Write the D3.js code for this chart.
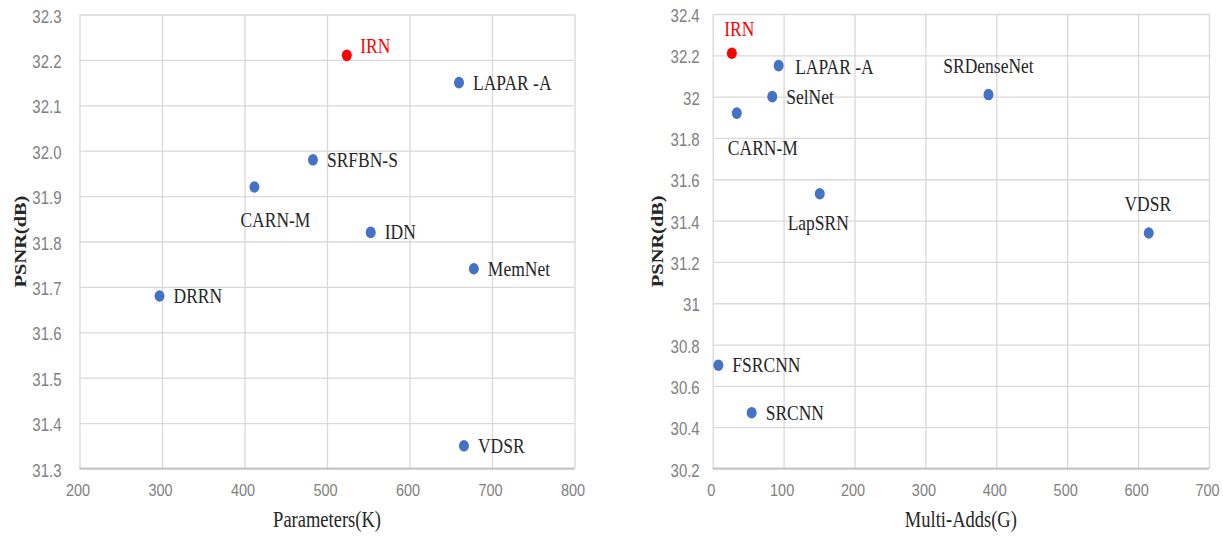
<!DOCTYPE html>
<html>
<head>
<meta charset="utf-8">
<script src="https://cdnjs.cloudflare.com/ajax/libs/d3/7.8.5/d3.min.js"></script>
<style>
  body { margin: 0; background: #fff; }
</style>
</head>
<body>
<script>
// left panel: PSNR vs Parameters(K)
var paramNames  = ['IRN', 'LAPAR -A', 'SRFBN-S', 'CARN-M', 'IDN', 'MemNet', 'DRRN', 'VDSR'];
var paramValues = [524, 660, 483, 412, 553, 678, 297, 666];
var paramPsnr   = [32.21, 32.15, 31.98, 31.92, 31.82, 31.74, 31.68, 31.35];
var paramXTicks = [200, 300, 400, 500, 600, 700, 800];
var paramYTicks = [31.3, 31.4, 31.5, 31.6, 31.7, 31.8, 31.9, 32.0, 32.1, 32.2, 32.3];
var paramYLabels = ['31.3', '31.4', '31.5', '31.6', '31.7', '31.8', '31.9', '32.0', '32.1', '32.2', '32.3'];

// right panel: PSNR vs Multi-Adds(G)
var addsNames  = ['IRN', 'LAPAR -A', 'SelNet', 'CARN-M', 'SRDenseNet', 'LapSRN', 'VDSR', 'FSRCNN', 'SRCNN'];
var addsValues = [27, 93, 84, 34, 389, 151, 615, 8, 55];
var addsPsnr   = [32.21, 32.15, 32.00, 31.92, 32.01, 31.53, 31.34, 30.70, 30.47];
var addsXTicks = [0, 100, 200, 300, 400, 500, 600, 700];
var addsYTicks = [30.2, 30.4, 30.6, 30.8, 31, 31.2, 31.4, 31.6, 31.8, 32, 32.2, 32.4];
var addsYLabels = ['30.2', '30.4', '30.6', '30.8', '31', '31.2', '31.4', '31.6', '31.8', '32', '32.2', '32.4'];

// where each label sits relative to its dot: anchor, dx, dy
var paramLabelPos = {
  'IRN': ['start', 13.5, -9],
  'CARN-M': ['middle', 21, 33]
};
var addsLabelPos = {
  'IRN': ['middle', 7.5, -24],
  'LAPAR -A': ['start', 16.5, 1.5],
  'CARN-M': ['middle', 26, 35],
  'SRDenseNet': ['middle', 0, -29],
  'LapSRN': ['middle', -1.5, 29],
  'VDSR': ['middle', -1, -29]
};

var w = 1223;
var h = 538;
var stretch = 1.2;   // the source picture is a little taller than wide

var svg = d3.select("body")
    .append("svg")
    .attr("width", w)
    .attr("height", h);

function drawPanel(p) {
  var x = d3.scaleLinear().domain(p.xDomain).range([p.left, p.right]);
  var y = d3.scaleLinear().domain(p.yDomain).range([p.bottom, p.top]);
  var g = svg.append("g");

  // horizontal grid + y tick labels
  var ya = g.append("g")
      .attr("transform", "translate(" + p.left + ",0)")
      .call(d3.axisLeft(y)
        .tickValues(p.yTicks)
        .tickFormat(function(d, i) { return p.yLabels[i]; })
        .tickSize(-(p.right - p.left))
        .tickPadding(p.yPad));
  ya.select(".domain").remove();
  ya.selectAll("line").attr("stroke", "#d9d9d9").attr("stroke-width", 1.3);
  ya.selectAll("text")
    .attr("fill", "#808080")
    .attr("font-family", "'Liberation Sans', Arial, sans-serif")
    .attr("font-size", "15px")
    .attr("dy", "0.42em")
    .attr("transform", "scale(1," + stretch + ")");

  // vertical grid + x tick labels
  var xa = g.append("g")
      .attr("transform", "translate(0," + p.bottom + ")")
      .call(d3.axisBottom(x)
        .tickValues(p.xTicks)
        .tickSize(-(p.bottom - p.top)));
  xa.select(".domain").remove();
  xa.selectAll("line").attr("stroke", "#d9d9d9").attr("stroke-width", 1.3);
  xa.selectAll("text")
    .attr("y", 0)
    .attr("dy", "0.36em")
    .attr("fill", "#808080")
    .attr("font-family", "'Liberation Sans', Arial, sans-serif")
    .attr("font-size", "14.5px")
    .attr("transform", "translate(-2,21) scale(1," + stretch + ")");

  // bottom axis line
  g.append("line")
    .attr("x1", p.left).attr("x2", p.right)
    .attr("y1", p.bottom).attr("y2", p.bottom)
    .attr("stroke", "#c4c4c4")
    .attr("stroke-width", 2);

  // axis titles
  g.append("text")
    .text(p.xTitle)
    .attr("text-anchor", "middle")
    .attr("dy", "0.33em")
    .attr("transform", "translate(" + (p.left + p.right) / 2 + "," + p.xTitleY + ") scale(1," + stretch + ")")
    .attr("font-family", "'Liberation Serif', 'Times New Roman', serif")
    .attr("font-size", "18.5px")
    .attr("fill", "#262626");

  g.append("text")
    .text("PSNR(dB)")
    .attr("text-anchor", "middle")
    .attr("dy", "0.33em")
    .attr("transform", "translate(" + p.yTitleX + "," + (p.top + p.bottom) / 2 + ") rotate(-90) scale(" + stretch + ",1)")
    .attr("font-family", "'Liberation Serif', 'Times New Roman', serif")
    .attr("font-weight", "bold")
    .attr("font-size", "17px")
    .attr("fill", "#262626");

  var rows = p.names.map(function(n, i) { return [n, p.xs[i], p.ys[i]]; });

  g.selectAll("ellipse")
    .data(rows)
    .enter()
    .append("ellipse")
    .attr("cx", function(d) { return x(d[1]); })
    .attr("cy", function(d) { return y(d[2]); })
    .attr("rx", 5)
    .attr("ry", 5.8)
    .attr("fill", function(d) { return d[0] == 'IRN' ? "#ff0000" : "#4472c4"; });

  g.selectAll("text.lbl")
    .data(rows)
    .enter()
    .append("text")
    .attr("class", "lbl")
    .text(function(d) { return d[0]; })
    .attr("text-anchor", function(d) {
      return (p.labelPos[d[0]] || ['start'])[0];
    })
    .attr("dy", "0.33em")
    .attr("transform", function(d) {
      var lp = p.labelPos[d[0]] || ['start', 14, 0];
      return "translate(" + (x(d[1]) + lp[1]) + "," + (y(d[2]) + lp[2]) + ") scale(1," + stretch + ")";
    })
    .attr("font-family", "'Liberation Serif', 'Times New Roman', serif")
    .attr("font-size", "17.5px")
    .attr("fill", function(d) { return d[0] == 'IRN' ? "#ff0000" : "#262626"; });
}

drawPanel({
  names: paramNames, xs: paramValues, ys: paramPsnr,
  xDomain: [200, 800], yDomain: [31.3, 32.3],
  xTicks: paramXTicks, yTicks: paramYTicks, yLabels: paramYLabels,
  left: 79.5, right: 574.5, top: 14.5, bottom: 468.5,
  yPad: 18, xTitle: "Parameters(K)", xTitleY: 520, yTitleX: 20,
  labelPos: paramLabelPos
});

drawPanel({
  names: addsNames, xs: addsValues, ys: addsPsnr,
  xDomain: [0, 700], yDomain: [30.2, 32.4],
  xTicks: addsXTicks, yTicks: addsYTicks, yLabels: addsYLabels,
  left: 712.7, right: 1209, top: 14, bottom: 468.5,
  yPad: 13, xTitle: "Multi-Adds(G)", xTitleY: 519.5, yTitleX: 657,
  labelPos: addsLabelPos
});
</script>
</body>
</html>
